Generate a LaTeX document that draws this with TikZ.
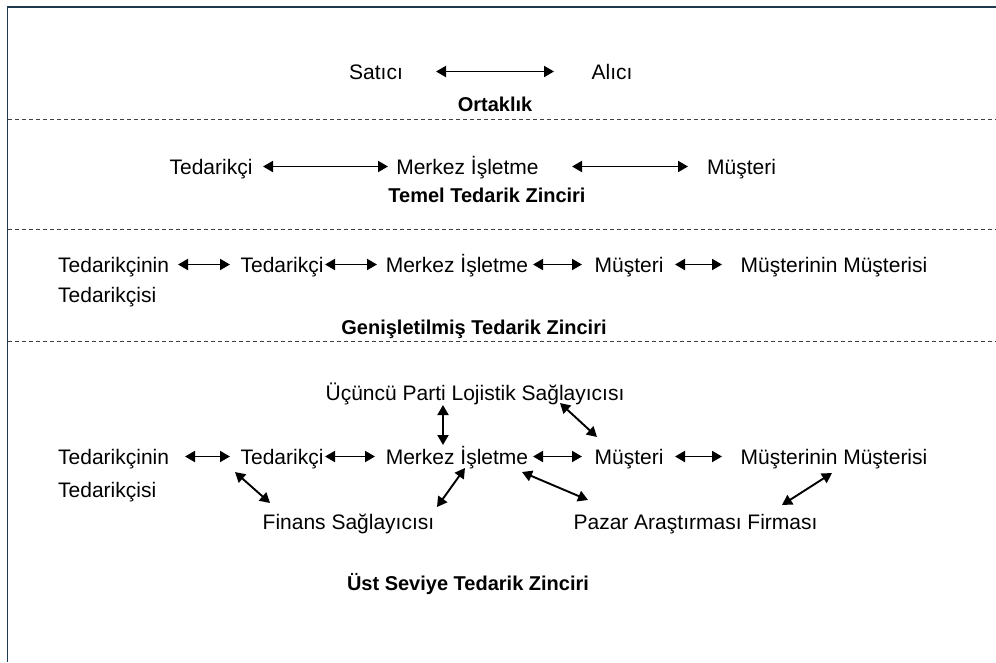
\documentclass[tikz,border=0pt]{standalone}
\usepackage{fontspec}
\setmainfont{Liberation Sans}
\usetikzlibrary{arrows.meta}
\definecolor{framecol}{HTML}{1F3A4D}
\definecolor{sepcol}{HTML}{404040}
\tikzset{
  lbl/.style={inner sep=0pt, text height=15pt, text depth=0pt, anchor=base,
    font=\fontsize{21}{30}\selectfont},
  ttl/.style={lbl, font=\fontsize{20}{30}\selectfont\bfseries},
  twoline/.style={inner sep=0pt, anchor=north west, align=left,
    font=\fontsize{21}{30}\selectfont},
  biarrow/.style={line width=1.9pt, {Triangle[length=10pt,width=11pt]}-{Triangle[length=10pt,width=11pt]}},
  sepline/.style={sepcol, line width=0.8pt, dash pattern=on 4pt off 3pt},
}
\begin{document}
\begin{tikzpicture}[x=1pt,y=-1pt]
\useasboundingbox (0,0) rectangle (996,662);
% frame
\draw[framecol, line width=2.2pt] (7,7) -- (996,7);
\draw[framecol, line width=1.5pt] (7.5,6) -- (7.5,662);
% separators
\draw[sepline] (8,119) -- (996,119);
\draw[sepline] (8,229) -- (996,229);
\draw[sepline] (8,341) -- (996,341);

% --- Ortaklik
\node[lbl] (sat) at (376,79) {Satıcı};
\node[lbl] (ali) at (612,79) {Alıcı};
\node[ttl] (ort) at (495,111) {Ortaklık};
\draw[biarrow, shorten <=60pt, shorten >=58pt] (sat.center) -- (ali.center);

% --- Temel Tedarik Zinciri
\node[lbl] (t2ted) at (211,174) {Tedarikçi};
\node[lbl] (t2mer) at (467.5,174) {Merkez İşletme};
\node[lbl] (t2mus) at (741.5,174) {Müşteri};
\node[ttl] (t2ttl) at (487,202) {Temel Tedarik Zinciri};
\draw[biarrow, shorten <=52pt, shorten >=79.5pt] (t2ted.center) -- (t2mer.center);
\draw[biarrow, shorten <=104.5pt, shorten >=53.5pt] (t2mer.center) -- (t2mus.center);

% --- Genisletilmis Tedarik Zinciri
\node[twoline] (t3tt) at (58,257) {Tedarikçinin\\Tedarikçisi};
\node[lbl] (t3ted) at (282,272) {Tedarikçi};
\node[lbl] (t3mer) at (457,272) {Merkez İşletme};
\node[lbl] (t3mus) at (629,272) {Müşteri};
\node[lbl] (t3mm) at (834,272) {Müşterinin Müşterisi};
\node[ttl] (t3ttl) at (474,334) {Genişletilmiş Tedarik Zinciri};
\draw[biarrow, shorten <=120pt, shorten >=52pt] ([yshift=-7.5pt]t3tt.north west) -- (t3ted.center);
\draw[biarrow, shorten <=43pt, shorten >=80pt] (t3ted.center) -- (t3mer.center);
\draw[biarrow, shorten <=76pt, shorten >=47pt] (t3mer.center) -- (t3mus.center);
\draw[biarrow, shorten <=46pt, shorten >=112pt] (t3mus.center) -- (t3mm.center);

% --- Ust Seviye Tedarik Zinciri
\node[lbl] (ucp) at (475,400) {Üçüncü Parti Lojistik Sağlayıcısı};
\node[twoline] (t4tt) at (58,449) {Tedarikçinin\\[3pt]Tedarikçisi};
\node[lbl] (t4ted) at (282,464) {Tedarikçi};
\node[lbl] (t4mer) at (457,464) {Merkez İşletme};
\node[lbl] (t4mus) at (629,464) {Müşteri};
\node[lbl] (t4mm) at (834,464) {Müşterinin Müşterisi};
\node[lbl] (fin) at (348.5,529) {Finans Sağlayıcısı};
\node[lbl] (paz) at (695.5,529) {Pazar Araştırması Firması};
\node[ttl] (t4ttl) at (468,590) {Üst Seviye Tedarik Zinciri};
\draw[biarrow, shorten <=127pt, shorten >=52pt] ([yshift=-7.5pt]t4tt.north west) -- (t4ted.center);
\draw[biarrow, shorten <=43pt, shorten >=82pt] (t4ted.center) -- (t4mer.center);
\draw[biarrow, shorten <=76pt, shorten >=47pt] (t4mer.center) -- (t4mus.center);
\draw[biarrow, shorten <=46pt, shorten >=112pt] (t4mus.center) -- (t4mm.center);
\draw[biarrow] ([shift={(-32,12.5)}]ucp.center) -- ([shift={(-14,-11.5)}]t4mer.center);
\draw[biarrow] ([shift={(85,10.5)}]ucp.center) -- ([shift={(-32,-19.5)}]t4mus.center);
\draw[biarrow] ([shift={(-47,15.5)}]t4ted.center) -- ([shift={(-78.5,-18.5)}]fin.center);
\draw[biarrow] ([shift={(88.5,-14.5)}]fin.center) -- ([shift={(8,11.5)}]t4mer.center);
\draw[biarrow] ([shift={(65,15.5)}]t4mer.center) -- ([shift={(-107.5,-21.5)}]paz.center);
\draw[biarrow] ([shift={(86.5,-16.5)}]paz.center) -- ([shift={(-2,16.5)}]t4mm.center);
\end{tikzpicture}
\end{document}
